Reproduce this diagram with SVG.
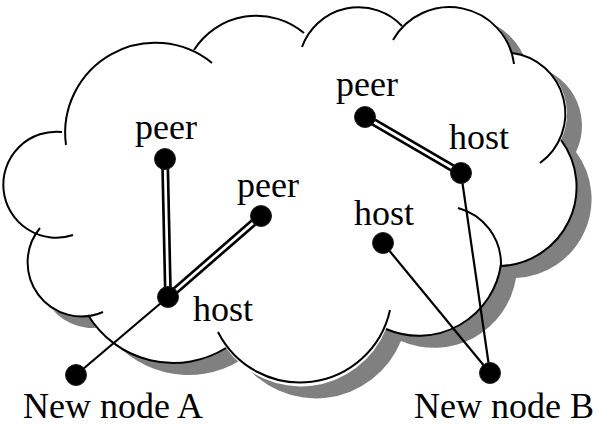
<svg xmlns="http://www.w3.org/2000/svg" width="599" height="425" viewBox="0 0 599 425">
<defs>
<path id="cloudShape" d="M40,228 A53,53 0 0 1 62,132 A90,90 0 0 1 194,50 A74,74 0 0 1 304,33 A60,60 0 0 1 402,26 A65,65 0 0 1 512,53 A61,61 0 0 1 561,140 A79,79 0 0 1 501,266 A83,83 0 0 1 386,329 A92,92 0 0 1 226,348 A100,100 0 0 1 88,315 A52,52 0 0 1 40,228 Z"/>
</defs>
<style>
.lobe{fill:none;stroke:#000;stroke-width:2}
.dbl-o{stroke:#000;stroke-width:8;fill:none}
.dbl-i{stroke:#fff;stroke-width:2.7;fill:none}
.single{stroke:#000;stroke-width:2.2;fill:none}
.dot{fill:#000;stroke:#222;stroke-width:1}
text{font-family:"Liberation Serif","Times New Roman",serif;font-size:36px;fill:#000}
</style>
<rect width="599" height="425" fill="#fff"/>
<g id="cloud">
<use href="#cloudShape" transform="translate(15,12)" fill="#808080"/>
<use href="#cloudShape" fill="#fff"/>
<path class="lobe" d="M73,235 A53,53 0 1 1 62,132"/>
<path class="lobe" d="M66,145 A90,90 0 0 1 212,63"/>
<path class="lobe" d="M194,50 A74,74 0 0 1 304,33"/>
<path class="lobe" d="M302,47 A60,60 0 0 1 402,26"/>
<path class="lobe" d="M393,40 A65,65 0 0 1 514,64"/>
<path class="lobe" d="M512,53 A61,61 0 0 1 540,163"/>
<path class="lobe" d="M561,140 A79,79 0 0 1 501,266"/>
<path class="lobe" d="M458,208 A58,58 0 0 1 501,264 A83,83 0 0 1 386,329"/>
<path class="lobe" d="M390,310 A92,92 0 0 1 218,332"/>
<path class="lobe" d="M226,348 A100,100 0 0 1 88,315"/>
<path class="lobe" d="M103,312 A54,54 0 0 1 40,228"/>
</g>
<g id="connectors">
<line class="dbl-o" x1="165" y1="159" x2="168" y2="297"/>
<line class="dbl-i" x1="165" y1="159" x2="168" y2="297"/>
<line class="dbl-o" x1="168" y1="297" x2="261" y2="216"/>
<line class="dbl-i" x1="168" y1="297" x2="261" y2="216"/>
<line class="dbl-o" x1="365" y1="117" x2="461" y2="173"/>
<line class="dbl-i" x1="365" y1="117" x2="461" y2="173"/>
<line class="single" x1="168" y1="297" x2="76" y2="375"/>
<line class="single" x1="461" y1="173" x2="490" y2="373"/>
<line class="single" x1="383" y1="243" x2="490" y2="373"/>
</g>
<g id="peer-left"><circle class="dot" cx="165" cy="159" r="10.5"/><text x="135" y="139">peer</text></g>
<g id="peer-mid"><circle class="dot" cx="261" cy="216" r="10.5"/><text x="237" y="197">peer</text></g>
<g id="host-a"><circle class="dot" cx="168" cy="297" r="10.5"/><text x="193" y="321">host</text></g>
<g id="new-node-a"><circle class="dot" cx="76" cy="375" r="10.5"/><text x="23" y="418">New node A</text></g>
<g id="peer-right"><circle class="dot" cx="365" cy="117" r="10.5"/><text x="336" y="96">peer</text></g>
<g id="host-tr"><circle class="dot" cx="461" cy="173" r="10.5"/><text x="449" y="149">host</text></g>
<g id="host-mr"><circle class="dot" cx="383" cy="243" r="10.5"/><text x="354" y="225">host</text></g>
<g id="new-node-b"><circle class="dot" cx="490" cy="373" r="10.5"/><text x="414" y="418">New node B</text></g>
</svg>
